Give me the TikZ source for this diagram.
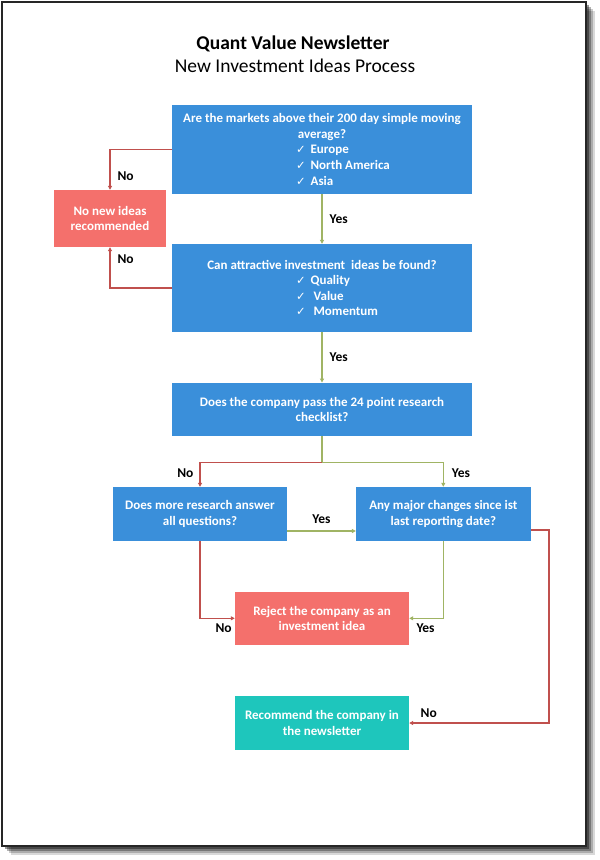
\documentclass[tikz,border=0pt]{standalone}
\usepackage{fontspec}
\setmainfont{Carlito}
\newfontfamily\tickfont{DejaVu Sans}
\usetikzlibrary{arrows.meta}

\definecolor{qblue}{RGB}{58,143,218}
\definecolor{qsalmon}{RGB}{244,112,108}
\definecolor{qteal}{RGB}{30,198,188}
\definecolor{qred}{RGB}{192,80,77}
\definecolor{qolive}{RGB}{160,180,100}

\newcommand{\tick}{{\tickfont\fontsize{11.5}{10}\selectfont ✓}}
\newcommand{\chk}[1]{\makebox[52pt][l]{\tick\hspace{5pt}#1}}

\begin{document}
\begin{tikzpicture}[x=1pt,y=-1pt,
    box/.style={fill=qblue,text=white,font=\bfseries\fontsize{13}{15.6}\selectfont,align=center,inner sep=0pt},
    stop/.style={box,fill=qsalmon},
    done/.style={box,fill=qteal},
    yes/.style={qolive,line width=1.2pt,-{Triangle[length=4pt,width=4pt]}},
    no/.style={qred,line width=1.2pt,-{Triangle[length=4pt,width=4pt]}},
    lbl/.style={black,font=\bfseries\fontsize{13.5}{14}\selectfont,inner sep=2pt}]
        \fill[white] (0,0) rectangle (600,860);
        \useasboundingbox (0,0) rectangle (600,860);
        \foreach \s/\o in {9/0.15,7/0.2,5/0.3,3/0.4}
            \fill[black,opacity=\o] (2+\s,2+\s) rectangle (586+\s,846+\s);
        \fill[white] (2,2) rectangle (586,846);
        \draw[line width=2pt,black!85] (2,2) rectangle (586,846);

        \node[font=\bfseries\fontsize{19.5}{22}\selectfont] (title) at (293,44) {Quant Value Newsletter};
        \node[font=\fontsize{19.5}{22}\selectfont] (subtitle) at (295,66) {New Investment Ideas Process};

        \node[box,minimum width=300pt,minimum height=88.5pt] (markets) at (322,149.3)
            {Are the markets above their 200 day simple moving\\average?\\\chk{Europe}\\\chk{North America}\\\chk{Asia}};
        \node[stop,minimum width=112pt,minimum height=57pt] (noideas) at (110,218.5) {No new ideas\\recommended};
        \node[box,minimum width=300pt,minimum height=88pt] (ideas) at (322,288)
            {Can attractive investment\ \ ideas be found?\\\chk{Quality}\\\chk{\hspace{3pt}Value}\\\chk{\hspace{3pt}Momentum}};
        \node[box,minimum width=300pt,minimum height=53.5pt] (checklist) at (322,409.5)
            {Does the company pass the 24 point research\\checklist?};
        \node[box,minimum width=174pt,minimum height=54pt] (research) at (200,514)
            {Does more research answer\\all questions?};
        \node[box,minimum width=174.5pt,minimum height=54pt] (changes) at (443.3,514)
            {Any major changes since ist\\last reporting date?};
        \node[stop,minimum width=174pt,minimum height=53.5pt] (reject) at (322,618.3)
            {Reject the company as an\\investment idea};
        \node[done,minimum width=174pt,minimum height=54pt] (recommend) at (322,723)
            {Recommend the company in\\the newsletter};

        \coordinate (split) at ([yshift=-26pt]checklist.south);

        \draw[no] (markets.west) -| (noideas.north) node[lbl,pos=0.83,anchor=west,xshift=5pt]{No};
        \draw[no] (ideas.west) -| (noideas.south) node[lbl,pos=0.85,anchor=west,xshift=5pt]{No};
        \draw[yes] (markets.south) -- (ideas.north) node[lbl,midway,anchor=west,xshift=5pt]{Yes};
        \draw[yes] (ideas.south) -- (checklist.north) node[lbl,midway,anchor=west,xshift=5pt]{Yes};
        \draw[qolive,line width=1.2pt] (checklist.south) -- (split);
        \draw[no] (split) -| (research.north) node[lbl,pos=0.72,anchor=east,xshift=-4pt]{No};
        \draw[yes] (split) -| (changes.north) node[lbl,pos=0.72,anchor=west,xshift=6pt]{Yes};
        \draw[yes] ([yshift=-17pt]research.east) -- ([yshift=-17pt]changes.west) node[lbl,midway,above=5pt]{Yes};
        \draw[no] (research.south) |- (reject.west) node[lbl,pos=0.84,below=3pt]{No};
        \draw[yes] (changes.south) |- (reject.east) node[lbl,pos=0.76,below=3pt]{Yes};
        \draw[no] ([yshift=-16pt]changes.east) -- ++(18.3,0) |- (recommend.east) node[lbl,pos=0.93,above=3pt]{No};
\end{tikzpicture}
\end{document}
